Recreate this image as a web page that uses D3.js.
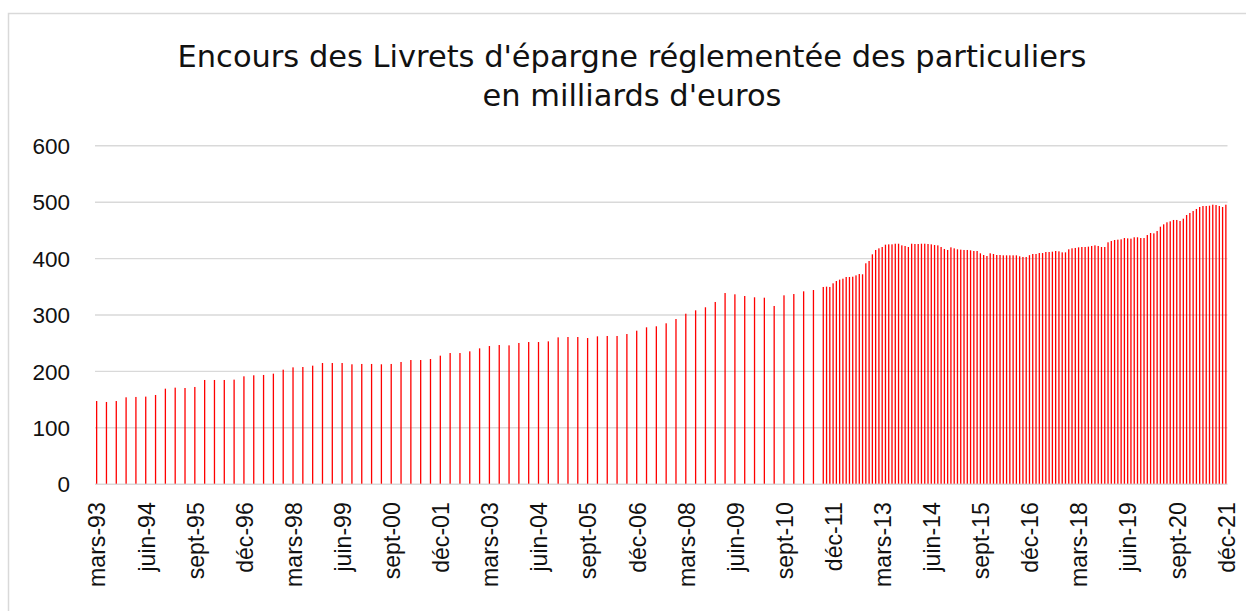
<!DOCTYPE html>
<html lang="fr">
<head>
<meta charset="utf-8">
<script src="https://cdn.jsdelivr.net/npm/d3@7"></script>
<style>
  body { margin: 0; background: #fff; }
  svg { display: block; font-family: "DejaVu Sans", sans-serif; }
</style>
</head>
<body>
<svg id="chart" width="1246" height="611"></svg>
<script>
// encours trimestriels, de mars-93 a juin-11 (milliards d'euros)
var debutTrim = new Date(1993, 2, 1);
var encoursTrim = [
  146.6, 144.9, 146.6, 153.2, 153.8, 154.4, 157.3, 168.5, 170.3, 169.7,
  171.5, 183.9, 183.9, 183.9, 184.5, 190.4, 192.2, 192.8, 195.1, 202.2,
  206.3, 206.9, 209.3, 214.0, 214.0, 214.0, 211.7, 212.3, 212.3, 211.7,
  212.3, 215.8, 219.3, 219.3, 221.1, 227.0, 231.7, 231.7, 234.7, 240.0,
  244.1, 245.9, 245.3, 249.5, 251.2, 251.2, 252.4, 259.5, 260.1, 260.1,
  258.3, 261.3, 261.9, 261.9, 265.4, 271.3, 277.3, 279.1, 284.4, 292.0,
  301.4, 307.4, 312.8, 322.2, 338.1, 335.8, 332.8, 330.5, 329.8, 315.1,
  334.0, 336.3, 341.1, 343.4
];
// encours mensuels, de sept-11 a déc-21
var debutMens = new Date(2011, 8, 1);
var encoursMens = [
  348.8, 349.4, 348.8, 355.3, 359.4, 361.8, 363.5, 366.5, 366.5, 367.0,
  369.4, 371.8, 371.3, 390.8, 394.9, 406.7, 414.4, 417.3, 419.7, 423.8,
  424.4, 424.4, 425.5, 425.5, 422.6, 421.5, 419.7, 425.5, 425.0, 425.0,
  425.5, 425.5, 425.0, 424.4, 423.2, 422.6, 419.7, 416.2, 414.4, 419.1,
  417.3, 415.6, 415.0, 414.4, 414.4, 413.8, 412.6, 412.6, 408.5, 405.5,
  403.7, 408.5, 407.3, 405.5, 405.5, 404.9, 404.9, 404.9, 404.9, 404.9,
  403.2, 402.0, 402.0, 405.2, 407.3, 407.3, 409.0, 409.0, 410.8, 410.8,
  411.4, 412.6, 412.0, 410.2, 410.2, 415.6, 417.3, 418.0, 419.1, 419.7,
  419.7, 420.3, 421.5, 422.6, 421.5, 419.7, 419.7, 428.0, 430.3, 432.1,
  432.7, 433.3, 435.6, 435.0, 434.5, 436.9, 436.9, 435.6, 435.6, 440.9,
  444.5, 443.9, 448.0, 455.7, 459.9, 463.5, 465.2, 467.6, 467.6, 465.8,
  469.9, 476.4, 480.0, 483.5, 487.1, 490.6, 492.4, 492.4, 492.9, 494.7,
  494.1, 492.4, 490.6, 494.7
];
// etiquettes de l'axe des dates (un pas de 15 mois)
var etiquettesX = ["mars-93", "juin-94", "sept-95", "déc-96", "mars-98", "juin-99",
  "sept-00", "déc-01", "mars-03", "juin-04", "sept-05", "déc-06", "mars-08", "juin-09",
  "sept-10", "déc-11", "mars-13", "juin-14", "sept-15", "déc-16", "mars-18", "juin-19",
  "sept-20", "déc-21"];
var graduationsY = [0, 100, 200, 300, 400, 500, 600];
var titre = ["Encours des Livrets d'épargne réglementée des particuliers", "en milliards d'euros"];

var svg = d3.select('#chart');
var plotLeft = 95, plotRight = 1227.5, plotTop = 145.3, plotBottom = 483.7;

// taille de police qui donne a un texte la largeur voulue
var fitSize = function(txt, target, base){
  var t = svg.append('text').style('font-size', base + 'px').text(txt);
  var w = t.node().getComputedTextLength();
  t.remove();
  return base * target / w;
};
var sizeTitre = fitSize(titre[0], 909, 30);
var sizeX = fitSize("mars-93", 96, 23);
var sizeY = fitSize("600", 43, 23);

// cadre du graphique
svg.append('rect')
  .attr('x', 8.5).attr('y', 13.5)
  .attr('width', 1400).attr('height', 800)
  .style('fill', '#fff')
  .style('stroke', '#d9d9d9')
  .style('stroke-width', 1.5);

// points : nombre de mois depuis mars-93
var points = [];
encoursTrim.forEach(function(v, i){
  points.push({ mois: d3.timeMonth.count(debutTrim, d3.timeMonth.offset(debutTrim, 3 * i)), valeur: v });
});
encoursMens.forEach(function(v, i){
  points.push({ mois: d3.timeMonth.count(debutTrim, d3.timeMonth.offset(debutMens, i)), valeur: v });
});
var dernierMois = d3.max(points, function(d){ return d.mois; });

var x = d3.scaleLinear().domain([-0.5, dernierMois + 0.5]).range([plotLeft, plotRight]);
var y = d3.scaleLinear().domain([0, 600]).range([plotBottom, plotTop]);

// axe vertical + quadrillage
var yAxis = svg.append('g')
  .attr('transform', 'translate(' + plotLeft + ',0)')
  .call(d3.axisLeft(y).tickValues(graduationsY).tickSize(-(plotRight - plotLeft)).tickPadding(25));
yAxis.select('.domain').remove();
yAxis.selectAll('line').style('stroke', '#d9d9d9').style('stroke-width', 1.4);
yAxis.selectAll('text')
  .style('font-size', sizeY + 'px')
  .style('fill', '#111')
  .attr('dy', '0.36em');

// barres
svg.append('g').selectAll('rect')
  .data(points)
  .enter().append('rect')
  .attr('x', function(d){ return x(d.mois) - 0.65; })
  .attr('width', 1.3)
  .attr('y', function(d){ return y(d.valeur); })
  .attr('height', function(d){ return y(0) - y(d.valeur); })
  .style('fill', '#ff0000');

// axe des dates
var ticksX = etiquettesX.map(function(d, i){ return 15 * i; });
var xAxis = svg.append('g')
  .attr('transform', 'translate(0,' + plotBottom + ')')
  .call(d3.axisBottom(x).tickValues(ticksX).tickSize(0)
    .tickFormat(function(d, i){ return etiquettesX[i]; }));
xAxis.select('.domain').remove();
xAxis.selectAll('text')
  .attr('y', 0)
  .attr('x', -18.5)
  .attr('dy', '0.36em')
  .attr('transform', 'rotate(-90)')
  .style('text-anchor', 'end')
  .style('font-size', sizeX + 'px')
  .style('fill', '#111');

// titre
svg.append('text')
  .attr('x', 632)
  .attr('y', 67)
  .attr('text-anchor', 'middle')
  .style('font-size', sizeTitre + 'px')
  .style('fill', '#111')
  .selectAll('tspan')
  .data(titre)
  .enter().append('tspan')
  .attr('x', 632)
  .attr('dy', function(d, i){ return i == 0 ? 0 : 39; })
  .text(function(d){ return d; });
</script>
</body>
</html>
